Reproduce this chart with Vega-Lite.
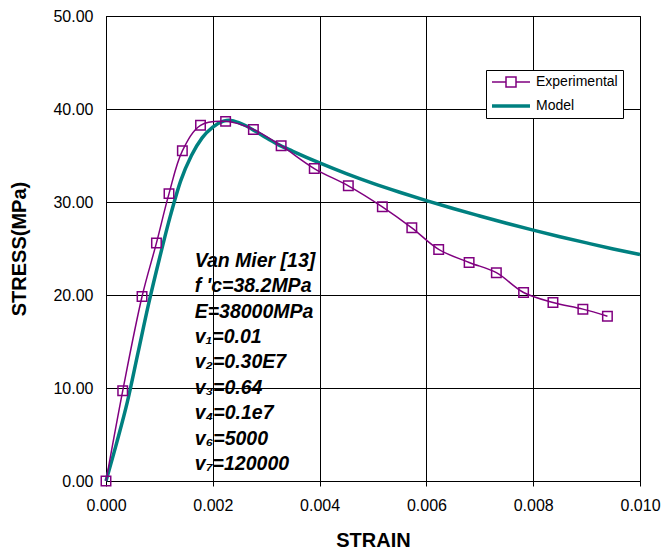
{
  "$schema": "https://vega.github.io/schema/vega-lite/v6.json",
  "width": 534,
  "height": 465,
  "autosize": "none",
  "padding": {"left": 106, "top": 16, "right": 22, "bottom": 69},
  "background": "white",
  "config": {"view": {"stroke": "#000", "strokeWidth": 1}, "font": "Liberation Sans"},
  "datasets": {
    "curves": [
      {"series": "Experimental", "strain": 0, "stress": 0},
      {"series": "Experimental", "strain": 0.000313, "stress": 9.7},
      {"series": "Experimental", "strain": 0.000675, "stress": 19.84},
      {"series": "Experimental", "strain": 0.000945, "stress": 25.6},
      {"series": "Experimental", "strain": 0.00118, "stress": 30.9},
      {"series": "Experimental", "strain": 0.00143, "stress": 35.5},
      {"series": "Experimental", "strain": 0.00177, "stress": 38.25},
      {"series": "Experimental", "strain": 0.00224, "stress": 38.67},
      {"series": "Experimental", "strain": 0.00276, "stress": 37.8},
      {"series": "Experimental", "strain": 0.00328, "stress": 36.05},
      {"series": "Experimental", "strain": 0.0039, "stress": 33.6},
      {"series": "Experimental", "strain": 0.004538, "stress": 31.74},
      {"series": "Experimental", "strain": 0.005175, "stress": 29.48},
      {"series": "Experimental", "strain": 0.005727, "stress": 27.22},
      {"series": "Experimental", "strain": 0.00623, "stress": 24.9},
      {"series": "Experimental", "strain": 0.0068, "stress": 23.5},
      {"series": "Experimental", "strain": 0.00731, "stress": 22.4},
      {"series": "Experimental", "strain": 0.00782, "stress": 20.27},
      {"series": "Experimental", "strain": 0.00837, "stress": 19.2},
      {"series": "Experimental", "strain": 0.00893, "stress": 18.48},
      {"series": "Experimental", "strain": 0.00939, "stress": 17.72},
      {"series": "Model", "strain": 0, "stress": 0},
      {"series": "Model", "strain": 0.0002, "stress": 4.1},
      {"series": "Model", "strain": 0.0004, "stress": 8.5},
      {"series": "Model", "strain": 0.0006, "stress": 13.8},
      {"series": "Model", "strain": 0.0008, "stress": 19.1},
      {"series": "Model", "strain": 0.001, "stress": 23.9},
      {"series": "Model", "strain": 0.0012, "stress": 28.4},
      {"series": "Model", "strain": 0.0014, "stress": 32.3},
      {"series": "Model", "strain": 0.0016, "stress": 35.0},
      {"series": "Model", "strain": 0.0018, "stress": 36.9},
      {"series": "Model", "strain": 0.002, "stress": 38.05},
      {"series": "Model", "strain": 0.0022, "stress": 38.7},
      {"series": "Model", "strain": 0.0023, "stress": 38.8},
      {"series": "Model", "strain": 0.0024, "stress": 38.7},
      {"series": "Model", "strain": 0.0026, "stress": 38.25},
      {"series": "Model", "strain": 0.0028, "stress": 37.6},
      {"series": "Model", "strain": 0.003, "stress": 36.9},
      {"series": "Model", "strain": 0.0032, "stress": 36.25},
      {"series": "Model", "strain": 0.0035, "stress": 35.45},
      {"series": "Model", "strain": 0.004, "stress": 34.2},
      {"series": "Model", "strain": 0.0045, "stress": 33.05},
      {"series": "Model", "strain": 0.005, "stress": 32.0},
      {"series": "Model", "strain": 0.0055, "stress": 31.05},
      {"series": "Model", "strain": 0.006, "stress": 30.15},
      {"series": "Model", "strain": 0.0065, "stress": 29.3},
      {"series": "Model", "strain": 0.007, "stress": 28.5},
      {"series": "Model", "strain": 0.0075, "stress": 27.72},
      {"series": "Model", "strain": 0.008, "stress": 26.98},
      {"series": "Model", "strain": 0.0085, "stress": 26.27},
      {"series": "Model", "strain": 0.009, "stress": 25.6},
      {"series": "Model", "strain": 0.0095, "stress": 24.95},
      {"series": "Model", "strain": 0.01, "stress": 24.35}
    ],
    "note": [
      {"label": "Van Mier [13]\nf 'c=38.2MPa\nE=38000MPa\nv₁=0.01\nv₂=0.30E7\nv₃=0.64\nv₄=0.1e7\nv₆=5000\nv₇=120000", "strain": 0.00166, "stress": 23.03}
    ]
  },
  "layer": [
    {
      "data": {"name": "curves"},
      "encoding": {
        "x": {
          "field": "strain", "type": "quantitative",
          "scale": {"domain": [0, 0.01], "nice": false, "zero": false},
          "axis": {
            "title": "STRAIN", "values": [0, 0.002, 0.004, 0.006, 0.008, 0.01], "format": ".3f",
            "grid": true, "gridColor": "#000", "gridOpacity": 1, "gridWidth": 1,
            "domainColor": "#000", "tickColor": "#000", "tickSize": 5,
            "labelFont": "Liberation Sans", "labelFontSize": 16, "labelColor": "#000", "labelPadding": 11,
            "labelFlush": false, "labelOverlap": false,
            "titleFont": "Liberation Sans", "titleFontSize": 20, "titleFontWeight": "bold", "titleColor": "#000", "titlePadding": 17
          }
        },
        "y": {
          "field": "stress", "type": "quantitative",
          "scale": {"domain": [0, 50], "nice": false},
          "axis": {
            "title": "STRESS(MPa)", "values": [0, 10, 20, 30, 40, 50], "format": ".2f",
            "grid": true, "gridColor": "#000", "gridOpacity": 1, "gridWidth": 1,
            "domainColor": "#000", "ticks": false, "tickSize": 0,
            "labelFont": "Liberation Sans", "labelFontSize": 16, "labelColor": "#000", "labelPadding": 13,
            "labelFlush": false, "labelOverlap": false,
            "titleFont": "Liberation Sans", "titleFontSize": 20, "titleFontWeight": "bold", "titleColor": "#000", "titlePadding": 23
          }
        },
        "color": {
          "field": "series", "type": "nominal",
          "scale": {"domain": ["Experimental", "Model"], "range": ["#800080", "#008080"]},
          "legend": {
            "title": null, "orient": "none", "legendX": 380, "legendY": 54,
            "fillColor": "#fff", "strokeColor": "#000", "padding": 5,
            "labelFont": "Liberation Sans", "labelFontSize": 14, "labelColor": "#000",
            "symbolSize": 100, "symbolOffset": 13, "labelOffset": 18, "rowPadding": 9,
            "encode": {
              "symbols": {
                "update": {
                  "shape": {"signal": "datum.value === 'Model' ? 'M-3.8,0H3.8' : 'M-3.8,0H-1M1,0H3.8M-1,-1H1V1H-1Z'"},
                  "size": {"value": 100},
                  "strokeWidth": {"signal": "datum.value === 'Model' ? 3.5 : 1.5"},
                  "fill": {"value": "transparent"},
                  "opacity": {"value": 1}
                }
              }
            }
          }
        }
      },
      "layer": [
        {
          "transform": [{"filter": "datum.series === 'Model'"}],
          "mark": {"type": "line", "strokeWidth": 3.5, "interpolate": "monotone"}
        },
        {
          "transform": [{"filter": "datum.series === 'Experimental'"}],
          "mark": {"type": "line", "strokeWidth": 1.5, "interpolate": "catmull-rom"}
        },
        {
          "transform": [{"filter": "datum.series === 'Experimental'"}],
          "mark": {"type": "point", "shape": "square", "filled": false, "size": 90, "strokeWidth": 1.5, "opacity": 1}
        }
      ]
    },
    {
      "data": {"name": "note"},
      "mark": {
        "type": "text",
        "font": "Liberation Sans", "fontSize": 19.5, "fontWeight": "bold", "fontStyle": "italic",
        "lineHeight": 25.4, "lineBreak": "\n", "align": "left", "baseline": "alphabetic", "color": "#000"
      },
      "encoding": {
        "x": {"field": "strain", "type": "quantitative"},
        "y": {"field": "stress", "type": "quantitative"},
        "text": {"field": "label"}
      }
    }
  ]
}
